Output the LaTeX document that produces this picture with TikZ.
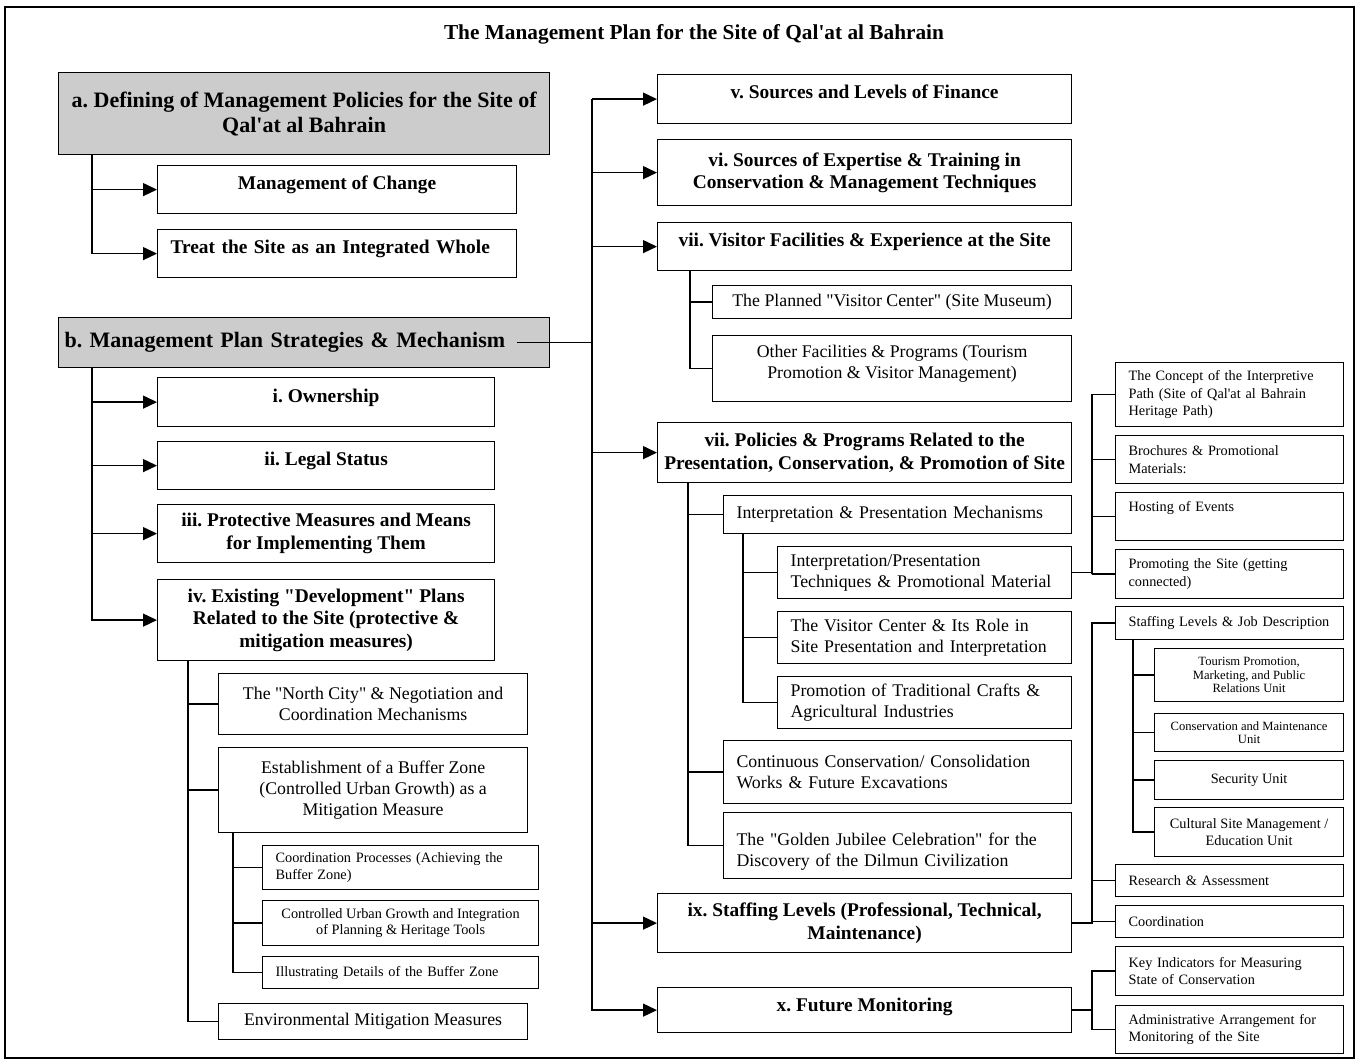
\documentclass[tikz,border=0pt]{standalone}
\usepackage{fontspec}
\setmainfont{Liberation Serif}[Ligatures=TeXOff]
\usetikzlibrary{arrows.meta}
\frenchspacing
\newcommand\fsTitle{\fontsize{21.3}{24}\selectfont\bfseries}
\newcommand\fsTop{\fontsize{22}{25}\selectfont\bfseries}
\newcommand\fsHead{\fontsize{19.4}{22.5}\selectfont\bfseries}
\newcommand\fsBody{\fontsize{17.8}{20.8}\selectfont}
\newcommand\fsSmall{\fontsize{14.3}{16.5}\selectfont}
\newcommand\fsRight{\fontsize{14.3}{17.5}\selectfont}
\newcommand\fsTiny{\fontsize{12.6}{13.5}\selectfont}
\tikzset{
  blk/.style={draw,rectangle,line width=1.2pt,anchor=north west,inner ysep=3pt,inner xsep=4pt,align=center},
  hdblk/.style={blk,font=\fsHead},
  topblk/.style={blk,font=\fsTop,fill=gray!40},
  txblk/.style={blk,font=\fsBody},
  smblk/.style={blk,font=\fsSmall},
  tnyblk/.style={blk,font=\fsTiny},
  rtblk/.style={blk,font=\fsRight,align=left,inner xsep=13pt,text width=202pt},
  lft/.style={align=left,inner xsep=13pt,text width=#1},
  wh/.style 2 args={minimum width=#1,minimum height=#2},
  lift/.style={text depth=#1},
  arr/.style={-{Triangle[length=14pt,width=13pt]},line width=1.3pt},
  ln/.style={line width=1.3pt}
}
\begin{document}
\begin{tikzpicture}[x=1pt,y=-1pt]
  \useasboundingbox (0,0) rectangle (1360,1061);
  \draw[line width=1.2pt] (5,7) rectangle (1354,1058);
  \node[font=\fsTitle] (title) at (694,34) {The Management Plan for the Site of Qal'at al Bahrain};

  % left column
  \node[topblk,wh={491pt}{82pt}] (a) at (58,72) {a. Defining of Management Policies for the Site of\\Qal'at al Bahrain};
  \node[hdblk,wh={359pt}{48pt},lift=14pt] (chg) at (157,165) {Management of Change};
  \node[hdblk,lft=333pt,wh={359pt}{48pt},lift=14pt] (whole) at (157,229) {Treat the Site as an Integrated Whole};
  \node[topblk,lft=479pt,inner xsep=6pt,wh={491pt}{50pt}] (b) at (58,317) {b. Management Plan Strategies \& Mechanism};
  \node[hdblk,wh={337pt}{49pt},lift=13pt] (own) at (157,377) {i. Ownership};
  \node[hdblk,wh={337pt}{48pt},lift=14pt] (legal) at (157,441) {ii. Legal Status};
  \node[hdblk,wh={337pt}{58pt}] (prot) at (157,504) {iii. Protective Measures and Means\\for Implementing Them};
  \node[hdblk,wh={337pt}{81pt}] (dev) at (157,579) {iv. Existing "Development" Plans\\Related to the Site (protective \&\\mitigation measures)};
  \node[txblk,wh={309pt}{61pt}] (ncity) at (218,673) {The "North City" \& Negotiation and\\Coordination Mechanisms};
  \node[txblk,wh={309pt}{85pt}] (buff) at (218,747) {Establishment of a Buffer Zone\\(Controlled Urban Growth) as a\\Mitigation Measure};
  \node[smblk,lft=250pt,wh={276pt}{44pt}] (coordp) at (262,845) {Coordination Processes (Achieving the\\Buffer Zone)};
  \node[smblk,wh={276pt}{45pt}] (ctrl) at (262,900) {Controlled Urban Growth and Integration\\of Planning \& Heritage Tools};
  \node[smblk,lft=250pt,wh={276pt}{32pt}] (illus) at (262,956) {Illustrating Details of the Buffer Zone};
  \node[txblk,wh={309pt}{36pt}] (env) at (218,1003) {Environmental Mitigation Measures};

  % middle column
  \node[hdblk,wh={414pt}{49pt},lift=15pt] (fin) at (657,74) {v. Sources and Levels of Finance};
  \node[hdblk,wh={414pt}{66pt}] (expt) at (657,139) {vi. Sources of Expertise \& Training in\\Conservation \& Management Techniques};
  \node[hdblk,wh={414pt}{48pt},lift=14pt] (visit) at (657,222) {vii. Visitor Facilities \& Experience at the Site};
  \node[txblk,wh={359pt}{33pt}] (vcen) at (712,285) {The Planned "Visitor Center" (Site Museum)};
  \node[txblk,wh={359pt}{66pt},lift=13pt] (ofac) at (712,335) {Other Facilities \& Programs (Tourism\\Promotion \& Visitor Management)};
  \node[hdblk,wh={414pt}{60pt}] (pol) at (657,422) {vii. Policies \& Programs Related to the\\Presentation, Conservation, \& Promotion of Site};
  \node[txblk,lft=322pt,wh={348pt}{38pt}] (imech) at (723,495) {Interpretation \& Presentation Mechanisms};
  \node[txblk,lft=268pt,wh={294pt}{52pt}] (ipt) at (777,546) {Interpretation/Presentation\\Techniques \& Promotional Material};
  \node[txblk,lft=268pt,wh={294pt}{52pt}] (vrole) at (777,611) {The Visitor Center \& Its Role in\\Site Presentation and Interpretation};
  \node[txblk,lft=268pt,wh={294pt}{52pt}] (crafts) at (777,676) {Promotion of Traditional Crafts \&\\Agricultural Industries};
  \node[txblk,lft=322pt,wh={348pt}{63pt}] (cons) at (723,740) {Continuous Conservation/ Consolidation\\Works \& Future Excavations};
  \node[txblk,lft=322pt,wh={348pt}{66pt},lift=13pt] (jub) at (723,812) {The "Golden Jubilee Celebration" for the\\Discovery of the Dilmun Civilization};
  \node[hdblk,wh={414pt}{59pt}] (staff) at (657,893) {ix. Staffing Levels (Professional, Technical,\\Maintenance)};
  \node[hdblk,wh={414pt}{45pt},lift=11pt] (fmon) at (657,987) {x. Future Monitoring};

  % right column
  \node[rtblk,wh={228pt}{64pt}] (path) at (1115,362) {The Concept of the Interpretive\\Path (Site of Qal'at al Bahrain\\Heritage Path)};
  \node[rtblk,wh={228pt}{48pt}] (broch) at (1115,435) {Brochures \& Promotional\\Materials:};
  \node[rtblk,wh={228pt}{48pt},lift=21pt] (events) at (1115,492) {Hosting of Events};
  \node[rtblk,wh={228pt}{49pt}] (promo) at (1115,549) {Promoting the Site (getting\\connected)};
  \node[rtblk,wh={228pt}{33pt}] (jobs) at (1115,606) {Staffing Levels \& Job Description};
  \node[tnyblk,wh={189pt}{53pt}] (tour) at (1154,648) {Tourism Promotion,\\Marketing, and Public\\Relations Unit};
  \node[tnyblk,wh={189pt}{38pt}] (cmu) at (1154,713) {Conservation and Maintenance\\Unit};
  \node[smblk,wh={189pt}{39pt}] (sec) at (1154,760) {Security Unit};
  \node[smblk,wh={189pt}{49pt}] (csm) at (1154,807) {Cultural Site Management /\\Education Unit};
  \node[rtblk,wh={228pt}{32pt}] (research) at (1115,864) {Research \& Assessment};
  \node[rtblk,wh={228pt}{32pt}] (coord) at (1115,905) {Coordination};
  \node[rtblk,wh={228pt}{49pt}] (keyind) at (1115,946) {Key Indicators for Measuring\\State of Conservation};
  \node[rtblk,wh={228pt}{48pt}] (admin) at (1115,1005) {Administrative Arrangement for\\Monitoring of the Site};

  % connectors
  \coordinate (ta) at ([xshift=34pt]a.south west);
  \draw[arr] (ta) |- (chg.west);
  \draw[arr] (ta) |- (whole.west);
  \coordinate (tb) at ([xshift=34pt]b.south west);
  \foreach \n in {own,legal,prot,dev} \draw[arr] (tb) |- (\n.west);
  \coordinate (tdev) at ([xshift=31pt]dev.south west);
  \foreach \n in {ncity,buff,env} \draw[ln] (tdev) |- (\n.west);
  \coordinate (tbuf) at ([xshift=15pt]buff.south west);
  \foreach \n in {coordp,ctrl,illus} \draw[ln] (tbuf) |- (\n.west);

  \coordinate (tm) at ([xshift=-65pt]fin.west);
  \draw[ln] ([xshift=-33pt]b.east) -- (b.east -| tm);
  \foreach \n in {fin,expt,visit,pol,staff,fmon} \draw[arr] (tm) |- (\n.west);
  \coordinate (tvis) at ([xshift=33pt]visit.south west);
  \foreach \n in {vcen,ofac} \draw[ln] (tvis) |- (\n.west);
  \coordinate (tpol) at ([xshift=31pt]pol.south west);
  \foreach \n in {imech,cons,jub} \draw[ln] (tpol) |- (\n.west);
  \coordinate (tim) at ([xshift=20pt]imech.south west);
  \foreach \n in {ipt,vrole,crafts} \draw[ln] (tim) |- (\n.west);

  \coordinate (r1) at ([xshift=-23pt]promo.west);
  \draw[ln] (ipt.east) -| (r1) |- (path.west);
  \foreach \n in {broch,events,promo} \draw[ln] (r1 |- \n.west) -- (\n.west);
  \coordinate (r2) at ([xshift=-23pt]coord.west);
  \draw[ln] (staff.east) -| (r2) |- (jobs.west);
  \draw[ln] (r2 |- research.west) -- (research.west);
  \draw[ln] (r2) -- (coord.west);
  \coordinate (tjob) at ([xshift=18pt]jobs.south west);
  \foreach \n in {tour,cmu,sec,csm} \draw[ln] (tjob) |- (\n.west);
  \coordinate (r3) at ([xshift=-23pt]keyind.west);
  \draw[ln] (fmon.east) -- (fmon.east -| r3);
  \draw[ln] (keyind.west) -- (r3) |- (admin.west);
\end{tikzpicture}
\end{document}
